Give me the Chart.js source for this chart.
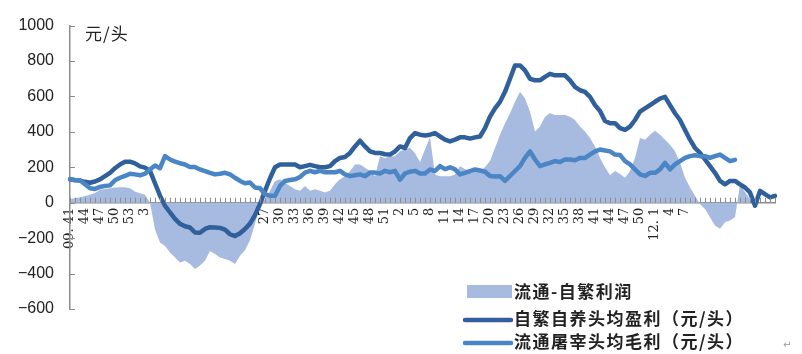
<!DOCTYPE html>
<html><head><meta charset="utf-8">
<script src="https://cdn.jsdelivr.net/npm/chart.js@4.4.0/dist/chart.umd.min.js"></script>
<style>html,body{margin:0;padding:0;background:#fff;}#wrap{position:relative;width:802px;height:354px;}</style>
</head><body><div id="wrap"><canvas id="c" width="802" height="354"></canvas></div>
<script>
// Tick labels shown every 3rd week (2009 wk41 … 2012)
const tickLabels = ["09. 41","44","47","50","53","3","6","9","12","15","18","21","24","27","30","33","36","39","42","45","48","51","2","5","8","11","14","17","20","23","26","29","32","35","38","41","44","47","50","12. 1","4","7"];
const weekCount = 142;

const seriesNames = ["流通-自繁利润","自繁自养头均盈利（元/头）","流通屠宰头均毛利（元/头）"];

const spreadValues = [20,26,30,38,45,55,73,78,82,86,
 88,88,82,64,54,45,0,-151,-225,-244,
 -281,-309,-337,-328,-346,-374,-355,-328,-272,-290,
 -309,-318,-328,-346,-300,-268,-212,-119,-10,20,
 67,123,132,113,95,76,67,95,67,76,
 67,58,67,104,132,150,179,216,216,197,
 179,150,262,253,262,262,290,300,310,280,
 230,300,370,160,150,150,150,160,206,190,
 179,179,179,200,235,309,384,449,505,570,
 626,588,514,402,430,486,505,495,495,495,
 486,467,430,402,365,318,253,200,155,179,
 162,141,179,253,365,356,384,406,384,356,
 328,290,225,141,86,39,-7,-35,-82,-128,
 -147,-110,-100,-82,100,60,20,null,null,null,
 null,null];

const farmProfit = [132,128,125,118,113,120,132,150,169,195,
 216,231,232,222,205,198,180,110,40,-17,
 -55,-91,-119,-133,-140,-168,-170,-148,-138,-140,
 -142,-152,-178,-188,-172,-148,-118,-70,-7,67,
 138,200,216,216,216,216,200,207,214,207,
 200,200,207,235,253,258,281,318,350,318,
 290,281,281,274,272,290,318,309,365,393,
 384,380,384,393,374,356,346,356,369,369,
 362,369,374,421,486,533,570,626,700,775,
 775,747,700,691,691,710,728,719,719,719,
 691,654,635,626,598,551,518,462,449,449,
 421,411,430,467,514,533,551,570,588,598,
 551,505,467,411,356,309,281,244,207,169,
 123,104,123,123,104,86,58,-17,67,48,
 30,39];

const slaughterMargin = [132,127,127,104,82,78,89,95,98,127,
 141,151,164,160,155,164,188,210,195,263,
 244,232,223,216,201,201,188,179,169,160,
 164,169,160,141,123,110,114,86,82,48,
 39,39,95,123,128,132,145,170,180,172,
 180,172,172,172,180,160,150,155,160,150,
 170,170,165,180,172,180,130,165,175,180,
 165,165,188,179,207,190,200,188,160,169,
 179,188,182,175,151,148,150,123,151,179,
 207,253,290,244,207,216,225,235,230,244,
 244,240,253,253,272,290,300,295,290,272,
 270,235,216,188,160,151,169,169,188,225,
 188,216,235,253,263,268,263,263,253,263,
 272,253,235,242,null,null,null,null,null,null,
 null,null];

const categories = [];
for (let i = 0; i < weekCount; i++) categories.push(i % 3 === 0 && tickLabels[i/3] !== undefined ? tickLabels[i/3] : "");

const AREA = '#a7badf', DARK = '#30609b', LIGHT = '#4a86c6', AXIS = '#8c8c8c';

const tickPlugin = {
  id: 'inTicks',
  afterDraw(chart) {
    const {ctx, scales: {x, y}, chartArea} = chart;
    ctx.save();
    ctx.strokeStyle = AXIS; ctx.lineWidth = 1;
    const y0 = y.getPixelForValue(0);
    for (let i = 0; i < weekCount; i++) {
      const px = Math.round(x.getPixelForValue(i)) + 0.5;
      ctx.beginPath(); ctx.moveTo(px, y0); ctx.lineTo(px, y0 - 5); ctx.stroke();
    }
    y.ticks.forEach(t => {
      const py = Math.round(y.getPixelForValue(t.value)) + 0.5;
      ctx.beginPath(); ctx.moveTo(chartArea.left, py); ctx.lineTo(chartArea.left + 5, py); ctx.stroke();
    });
    // unit label
    ctx.fillStyle = '#222';
    ctx.textBaseline = 'middle'; ctx.textAlign = 'left';
    ctx.font = '17px "Noto Sans CJK SC"';
    if ('letterSpacing' in ctx) ctx.letterSpacing = '1px';
    ctx.fillText('元/头', 85, 34);
    // legend
    const ds = chart.data.datasets;
    ctx.font = 'bold 17px "Noto Sans CJK SC"';
    if ('letterSpacing' in ctx) ctx.letterSpacing = '1.5px';
    ctx.fillStyle = ds[0].backgroundColor;
    ctx.fillRect(467, 285, 45, 13);
    ctx.fillStyle = '#222';
    ctx.fillText(ds[0].label, 514, 292);
    [[1, 320], [2, 343]].forEach(([k, ly]) => {
      ctx.strokeStyle = ds[k].borderColor; ctx.lineWidth = 4.5; ctx.lineCap = 'round';
      ctx.beginPath(); ctx.moveTo(465, ly); ctx.lineTo(511, ly); ctx.stroke();
      ctx.fillStyle = '#222';
      ctx.fillText(ds[k].label, 514, ly - 1);
    });
    if ('letterSpacing' in ctx) ctx.letterSpacing = '0px';
    ctx.fillStyle = '#999'; ctx.font = '10px "DejaVu Sans"';
    ctx.fillText('↵', 783, 345);
    ctx.restore();
  }
};

new Chart(document.getElementById('c'), {
  type: 'line',
  data: {
    labels: categories,
    datasets: [
      {label: seriesNames[0], data: spreadValues, fill: 'origin', backgroundColor: AREA, borderWidth: 0, borderColor: AREA, pointRadius: 0, tension: 0, order: 3},
      {label: seriesNames[1], data: farmProfit, fill: false, borderColor: DARK, borderWidth: 4.5, pointRadius: 0, tension: 0, borderCapStyle: 'round', borderJoinStyle: 'round', order: 2},
      {label: seriesNames[2], data: slaughterMargin, fill: false, borderColor: LIGHT, borderWidth: 4.5, pointRadius: 0, tension: 0, borderCapStyle: 'round', borderJoinStyle: 'round', order: 1}
    ]
  },
  options: {
    responsive: false, devicePixelRatio: 1, animation: false,
    layout: {padding: {left: 0, right: 27, top: 24, bottom: 45}},
    plugins: {legend: {display: false}, tooltip: {enabled: false}},
    scales: {
      x: {
        type: 'category', position: {y: 0}, offset: false,
        grid: {display: false, drawTicks: false},
        border: {display: true, color: AXIS, width: 1.5},
        ticks: {autoSkip: false, maxRotation: 90, minRotation: 90, padding: 5, color: '#222', font: {family: 'DejaVu Serif', size: 13}}
      },
      y: {
        min: -600, max: 1000,
        afterFit(s) { s.width = 70; },
        grid: {drawOnChartArea: false, drawTicks: false},
        border: {display: true, color: AXIS, width: 1.5},
        ticks: {stepSize: 200, padding: 16, color: '#222', font: {family: 'Liberation Sans', size: 16},
          callback: v => String(v).replace('-', '\u2212')}
      }
    }
  },
  plugins: [tickPlugin]
});
</script></body></html>
